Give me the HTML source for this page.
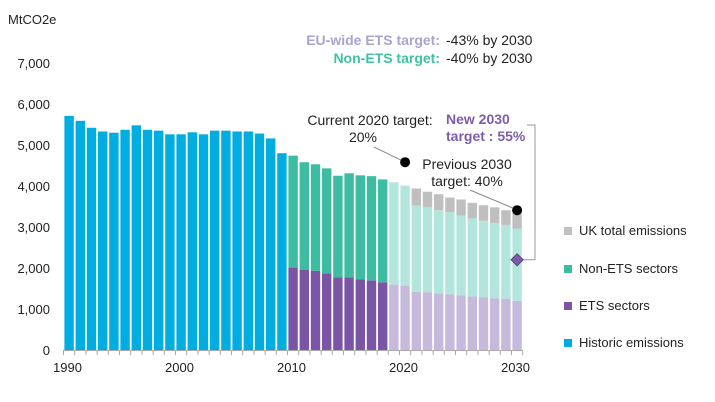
<!DOCTYPE html>
<html><head><meta charset="utf-8">
<style>
body{margin:0;background:#fff;}
svg{display:block;font-family:"Liberation Sans",sans-serif;}
</style></head>
<body>
<svg id="chart" width="715" height="402" viewBox="0 0 715 402">
<text x="8" y="24" font-size="13" fill="#222">MtCO2e</text>
<g id="yticks"></g>
<g id="bars"></g>
<g id="xaxis"></g>
<g font-size="14">
<text x="440" y="45" text-anchor="end" font-weight="bold" fill="#A9A3CE">EU-wide ETS target:</text>
<text x="446" y="45" fill="#222">-43% by 2030</text>
<text x="440" y="63" text-anchor="end" font-weight="bold" fill="#3EC2A2">Non-ETS target:</text>
<text x="446" y="63" fill="#222">-40% by 2030</text>
</g>
<g font-size="14" fill="#222">
<text x="370" y="125" text-anchor="middle">Current 2020 target:</text>
<text x="363" y="142" text-anchor="middle">20%</text>
<text x="467" y="169" text-anchor="middle">Previous 2030</text>
<text x="467" y="186" text-anchor="middle">target: 40%</text>
<text x="446" y="124" font-weight="bold" font-size="14" fill="#7D5CAA">New 2030</text>
<text x="446" y="141" font-weight="bold" font-size="14" fill="#7D5CAA">target : 55%</text>
</g>
<g id="markers"></g>
<g font-size="13" fill="#222">
<rect x="564" y="227" width="8" height="8" fill="#BFBFBF"/><text x="579" y="235">UK total emissions</text>
<rect x="564" y="265" width="8" height="8" fill="#3DBCA1"/><text x="579" y="273">Non-ETS sectors</text>
<rect x="564" y="302" width="8" height="8" fill="#7A55A6"/><text x="579" y="310">ETS sectors</text>
<rect x="564" y="339" width="8" height="8" fill="#00ADE1"/><text x="579" y="347">Historic emissions</text>
</g>
</svg>
<script>
const years = [];
for (let y = 1990; y <= 2030; y++) years.push(y);
const historic = [5710,5590,5420,5330,5300,5370,5480,5370,5350,5260,5260,5310,5260,5350,5350,5330,5330,5280,5160,4800];
const totalEU = [4740,4580,4530,4430,4250,4310,4260,4240,4160,4090,4010,3940,3860,3800,3720,3670,3590,3530,3480,3410,3350];
const euTargetPath = [null,null,null,null,null,null,null,null,null,4090,4010,3520,3480,3410,3360,3280,3210,3150,3100,3050,2960];
const ets = [2010,1960,1930,1870,1770,1770,1720,1700,1650,1600,1570,1420,1410,1380,1360,1330,1310,1290,1260,1250,1200];
const yTicks = [0,1000,2000,3000,4000,5000,6000,7000];
const xLabels = [1990,2000,2010,2020,2030];
const target2020 = 4580, prev2030 = 3410, new2030 = 2200;

const NS = "http://www.w3.org/2000/svg";
const x0 = 63.5, step = 11.2, bw = 9.4;
const yS = v => 350 - v * 287 / 7000;
const xS = yr => x0 + (yr - 1990) * step;
const xC = yr => xS(yr) + step / 2;
function mk(tag, attrs, parent) {
  const e = document.createElementNS(NS, tag);
  for (const k in attrs) e.setAttribute(k, attrs[k]);
  parent.appendChild(e); return e;
}
const gY = document.getElementById('yticks');
yTicks.forEach(v => {
  const t = mk('text', {x: 50, y: yS(v) + 5, 'text-anchor': 'end', 'font-size': 13, fill: '#222'}, gY);
  t.textContent = v.toLocaleString('en-US');
  
  
});
const gB = document.getElementById('bars');
function bar(yr, lo, hi, color, name) {
  const r = mk('rect', {x: xS(yr) + 0.9, y: yS(hi), width: bw, height: yS(lo) - yS(hi), fill: color}, gB);
  
  
}
historic.forEach((v, i) => bar(1990 + i, 0, v, '#00ADE1', 'bar-historic-' + (1990 + i)));
totalEU.forEach((tot, i) => {
  const yr = 2010 + i, proj = yr >= 2019;
  const mid = euTargetPath[i] == null ? tot : euTargetPath[i];
  bar(yr, 0, ets[i], proj ? '#C6BADC' : '#7A55A6', 'bar-ets-' + yr);
  bar(yr, ets[i], mid, proj ? '#B2E6DC' : '#3DBCA1', 'bar-non-ets-' + yr);
  if (mid < tot) bar(yr, mid, tot, '#BFBFBF', 'bar-uk-total-' + yr);
});
const gX = document.getElementById('xaxis');
mk('line', {x1: x0, y1: 350.5, x2: xS(2031), y2: 350.5, stroke: '#aaa'}, gX);
years.concat([2031]).forEach(yr => mk('line', {x1: xS(yr), y1: 350, x2: xS(yr), y2: 355, stroke: '#aaa'}, gX));
xLabels.forEach(yr => {
  const t = mk('text', {x: xS(yr) + 4, y: 372, 'text-anchor': 'middle', 'font-size': 13, fill: '#222'}, gX);
  t.textContent = yr;
  
  
});
const gM = document.getElementById('markers');
mk('line', {x1: 374, y1: 147, x2: xC(2020) - 4, y2: yS(target2020) - 2, stroke: '#888'}, gM);
mk('line', {x1: 470, y1: 190, x2: xC(2030) - 4, y2: yS(prev2030) - 2, stroke: '#888'}, gM);
mk('polyline', {points: `527,125 535,125 535,${yS(new2030)} 523,${yS(new2030)}`, fill: 'none', stroke: '#999'}, gM);
const c1 = mk('circle', {cx: xC(2020), cy: yS(target2020), r: 5, fill: '#000'}, gM);


const c2 = mk('circle', {cx: xC(2030), cy: yS(prev2030), r: 5, fill: '#000'}, gM);


const dx = xC(2030), dy = yS(new2030);
const d = mk('polygon', {points: `${dx},${dy-6} ${dx+6},${dy} ${dx},${dy+6} ${dx-6},${dy}`, fill: '#7D5CAA', stroke: '#5a3f86'}, gM);


</script>
</body></html>
